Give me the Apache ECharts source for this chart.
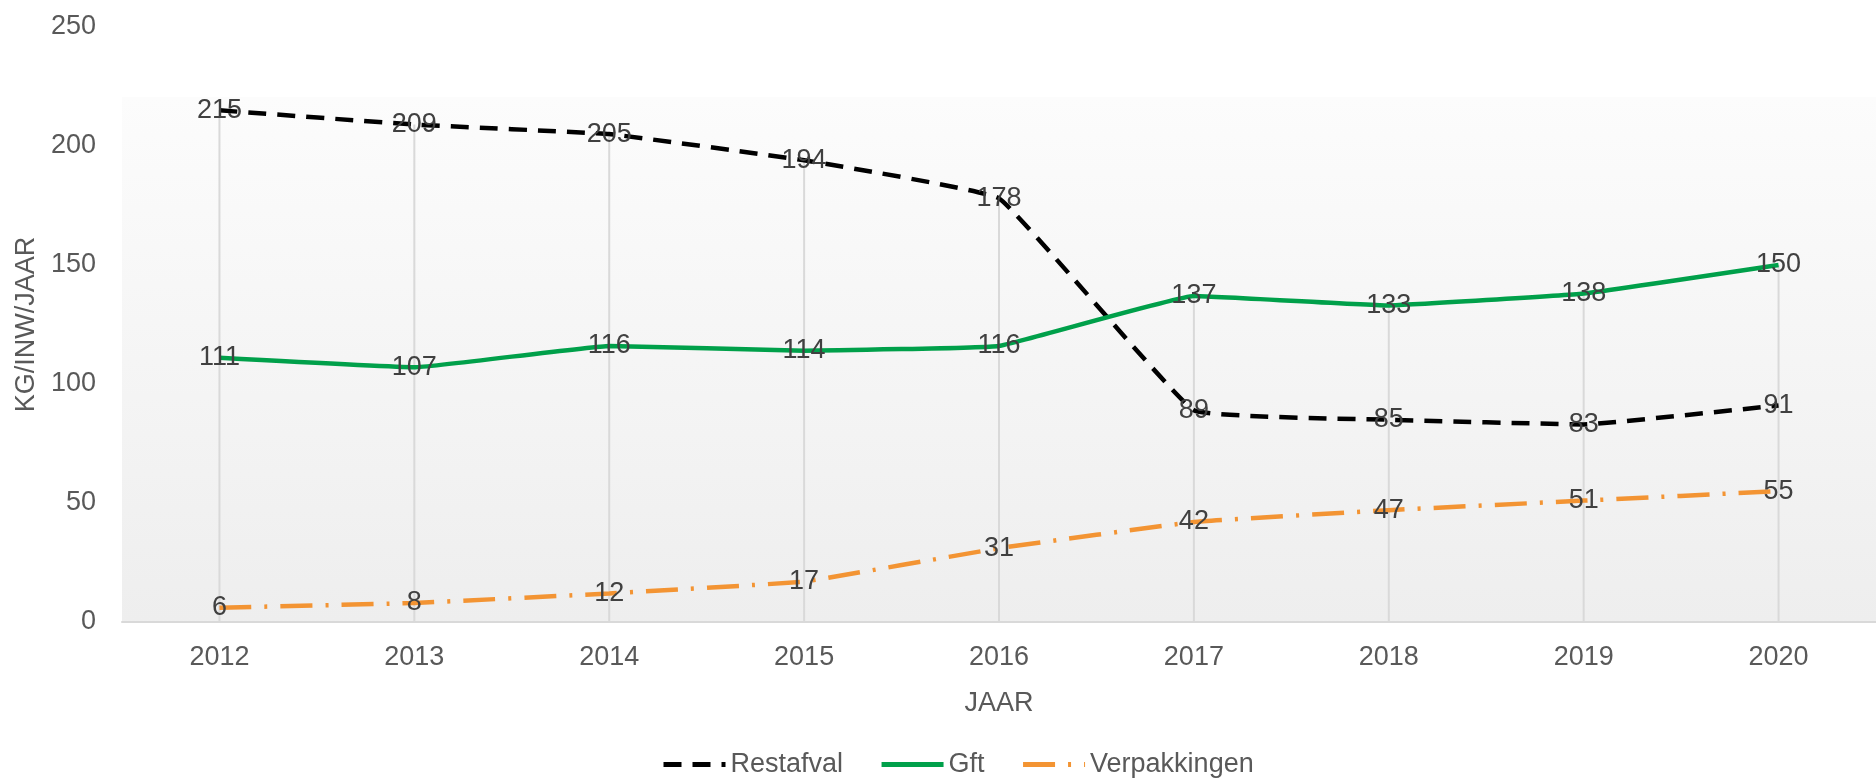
<!DOCTYPE html>
<html>
<head>
<meta charset="utf-8">
<script src="https://cdn.jsdelivr.net/npm/echarts@6/dist/echarts.min.js"></script>
<style>
  html, body { margin: 0; padding: 0; background: #fff; }
  #chart { width: 1876px; height: 779px; }
</style>
</head>
<body>
<div id="chart"></div>
<script>
// --- data ---
const years = ['2012', '2013', '2014', '2015', '2016', '2017', '2018', '2019', '2020']
const restafval = [215, 209, 205, 194, 178, 89, 85, 83, 91]
const gft = [111, 107, 116, 114, 116, 137, 133, 138, 150]
const verpakkingen = [6, 8, 12, 17, 31, 42, 47, 51, 55]
const yTicks = [0, 50, 100, 150, 200, 250]

// drop lines run from the highest point of each year down to the axis
const dropLines = years.map((_, i) => Math.max(restafval[i], gft[i], verpakkingen[i]))

const font = 'Liberation Sans, Arial, sans-serif'
const textGray = '#595959'
const fs = 27

const chart = echarts.init(document.getElementById('chart'))

const labelStyle = {
  show: true,
  position: 'inside',
  color: '#404040',
  fontSize: fs,
  fontFamily: font
}

const lineBase = {
  type: 'line',
  smooth: 0.08,
  symbol: 'circle',
  symbolSize: 0,
  showSymbol: true,
  z: 3,
  label: labelStyle
}

const option = {
  animation: false,
  textStyle: { fontFamily: font },
  // plot area shading (white to light grey)
  graphic: [{
    type: 'rect',
    left: 122,
    top: 97,
    z: -10,
    shape: { width: 1760, height: 525 },
    style: {
      fill: new echarts.graphic.LinearGradient(0, 0, 0, 1, [
        { offset: 0, color: '#fcfcfc' },
        { offset: 1, color: '#eeeeee' }
      ])
    },
    silent: true
  }],
  grid: { left: 122, top: 27, width: 1773, height: 595 },
  legend: {
    data: ['Restafval', 'Gft', 'Verpakkingen'],
    bottom: -4,
    left: 656,
    itemWidth: 62,
    itemHeight: 14,
    itemGap: 36,
    itemStyle: { opacity: 0 },
    lineStyle: { width: 5 },
    textStyle: { color: textGray, fontSize: fs, fontFamily: font }
  },
  xAxis: {
    type: 'category',
    data: years,
    boundaryGap: true,
    name: 'JAAR',
    nameLocation: 'middle',
    nameGap: 68,
    nameTextStyle: { color: textGray, fontSize: fs, fontFamily: font },
    axisLine: { lineStyle: { color: '#d9d9d9', width: 2 } },
    axisTick: { show: false },
    axisLabel: { color: textGray, fontSize: fs, fontFamily: font, margin: 22 },
    splitLine: { show: false }
  },
  yAxis: {
    type: 'value',
    min: yTicks[0],
    max: yTicks[yTicks.length - 1],
    interval: 50,
    name: 'KG/INW/JAAR',
    nameLocation: 'middle',
    nameGap: 80,
    nameTextStyle: { color: textGray, fontSize: fs, fontFamily: font },
    axisLine: { show: false },
    axisTick: { show: false },
    axisLabel: { color: textGray, fontSize: fs, fontFamily: font, margin: 26 },
    splitLine: { show: false }
  },
  series: [
    {
      name: 'drop',
      type: 'bar',
      data: dropLines,
      barWidth: 2,
      silent: true,
      z: 1,
      itemStyle: { color: '#d9d9d9' }
    },
    Object.assign({}, lineBase, {
      name: 'Restafval',
      data: restafval,
      lineStyle: { color: '#000000', width: 4.5, type: [18, 11] },
      itemStyle: { color: '#000000' }
    }),
    Object.assign({}, lineBase, {
      name: 'Gft',
      data: gft,
      lineStyle: { color: '#00a04a', width: 4.5 },
      itemStyle: { color: '#00a04a' }
    }),
    Object.assign({}, lineBase, {
      name: 'Verpakkingen',
      data: verpakkingen,
      lineStyle: { color: '#f39433', width: 4.5, type: [32, 13, 3, 13] },
      itemStyle: { color: '#f39433' }
    })
  ]
}

chart.setOption(option)
</script>
</body>
</html>
